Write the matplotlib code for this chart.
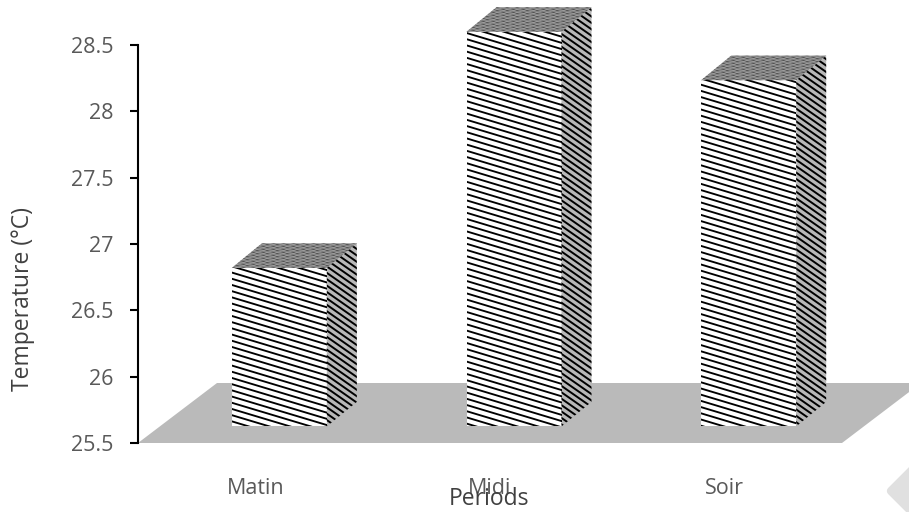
import numpy as np
import matplotlib
matplotlib.use('Agg')
import matplotlib.pyplot as plt
from matplotlib.patches import Polygon
from matplotlib.collections import LineCollection

plt.rcParams['font.family'] = ['Open Sans', 'DejaVu Sans']

periods = ['Matin', 'Midi', 'Soir']
temperature = [26.82, 28.6, 28.235]
yticks = [25.5, 26, 26.5, 27, 27.5, 28, 28.5]
ylabels = ['25.5', '26', '26.5', '27', '27.5', '28', '28.5']

W, H = 909, 512
fig = plt.figure(figsize=(W / 100, H / 100), dpi=100)
ax = fig.add_axes([138 / W, 1 - 443 / H, (842 - 138) / W, (443 - 45) / H])
ax.set_xlim(-0.5, 2.5)
ax.set_ylim(25.5, 28.5)

# pixels per data unit
px_x = (842 - 138) / 3
px_y = (443 - 45) / 3
depth_x = 30 / px_x
depth_y = 24.5 / px_y
shift = 24 / px_x
bar_w = 95 / px_x
base = 25.625


def stripes(poly, slope, gap, lw, color='black', offset=0):
    # slanted lines clipped to the polygon, slope and gap in pixels
    xs = poly[:, 0] * px_x
    ys = poly[:, 1] * px_y
    c = ys + slope * xs
    levels = np.arange(np.floor(c.min() / gap) * gap + offset, c.max() + gap, gap)
    x0, x1 = xs.min() - 2, xs.max() + 2
    segs = [[(x0 / px_x, (k - slope * x0) / px_y), (x1 / px_x, (k - slope * x1) / px_y)] for k in levels]
    lc = LineCollection(segs, colors=color, linewidths=lw, zorder=3)
    ax.add_collection(lc, autolim=False)
    clip = Polygon(poly, closed=True, transform=ax.transData, fc='none', ec='none')
    ax.add_patch(clip)
    clip.set_clip_on(False)
    lc.set_clip_box(None)
    lc.set_clip_path(clip)


def face(poly, fill):
    ax.add_patch(Polygon(poly, closed=True, fc=fill, ec='none', zorder=2, clip_on=False))


# floor
x_l, x_r = -0.5, 2.5
floor = np.array([[x_l, 25.5], [x_r, 25.5], [x_r + 79 / px_x, 25.5 + 60 / px_y], [x_l + 79 / px_x, 25.5 + 60 / px_y]])
ax.add_patch(Polygon(floor, closed=True, fc='#bababa', ec='none', zorder=1, clip_on=False))

for i, val in enumerate(temperature):
    x0 = i + shift - bar_w / 2
    x1 = x0 + bar_w
    front = np.array([[x0, base], [x1, base], [x1, val], [x0, val]])
    side = np.array([[x1, base], [x1 + depth_x, base + depth_y], [x1 + depth_x, val + depth_y], [x1, val]])
    top = np.array([[x0, val], [x1, val], [x1 + depth_x, val + depth_y], [x0 + depth_x, val + depth_y]])
    face(front, 'white')
    stripes(front, 0.3, 6.2, 1.35)
    face(side, '#b8b8b8')
    stripes(side, 0.7, 6.4, 1.4)
    face(top, '#858585')
    stripes(top, 0.3, 3.0, 0.6, color='#4a4a4a')
    stripes(top, -0.3, 3.0, 0.5, color='#a8a8a8')

ax.set_xticks(range(3))
ax.set_xticklabels(periods)
ax.set_yticks(yticks)
ax.set_yticklabels(ylabels)
ax.tick_params(axis='x', length=0, pad=25, labelsize=15.5, labelcolor='#595959')
ax.tick_params(axis='y', length=6, width=1.5, color='black', pad=11.5, labelsize=15.5, labelcolor='#595959')
for s in ['top', 'right', 'bottom']:
    ax.spines[s].set_visible(False)
ax.spines['left'].set_linewidth(1.5)
ax.patch.set_alpha(0)

fig.text(489 / W, 1 - 505 / H, 'Periods', ha='center', va='baseline', fontsize=16.5, color='#404040')
fig.text(23 / W, 1 - 299 / H, 'Temperature (°C)', rotation=90, ha='center', va='center', fontsize=16.5, color='#404040')

# corner mark of the source page
mark = Polygon([[891 / W, 1 - 491 / H], [912 / W, 1 - 470 / H], [930 / W, 1 - 491 / H], [912 / W, 1 - 512 / H]],
               closed=True, transform=fig.transFigure, fc='#e0e0e0', ec='#e0e0e0', lw=6, joinstyle='round')
fig.add_artist(mark)

fig.savefig('out.png', dpi=100)
